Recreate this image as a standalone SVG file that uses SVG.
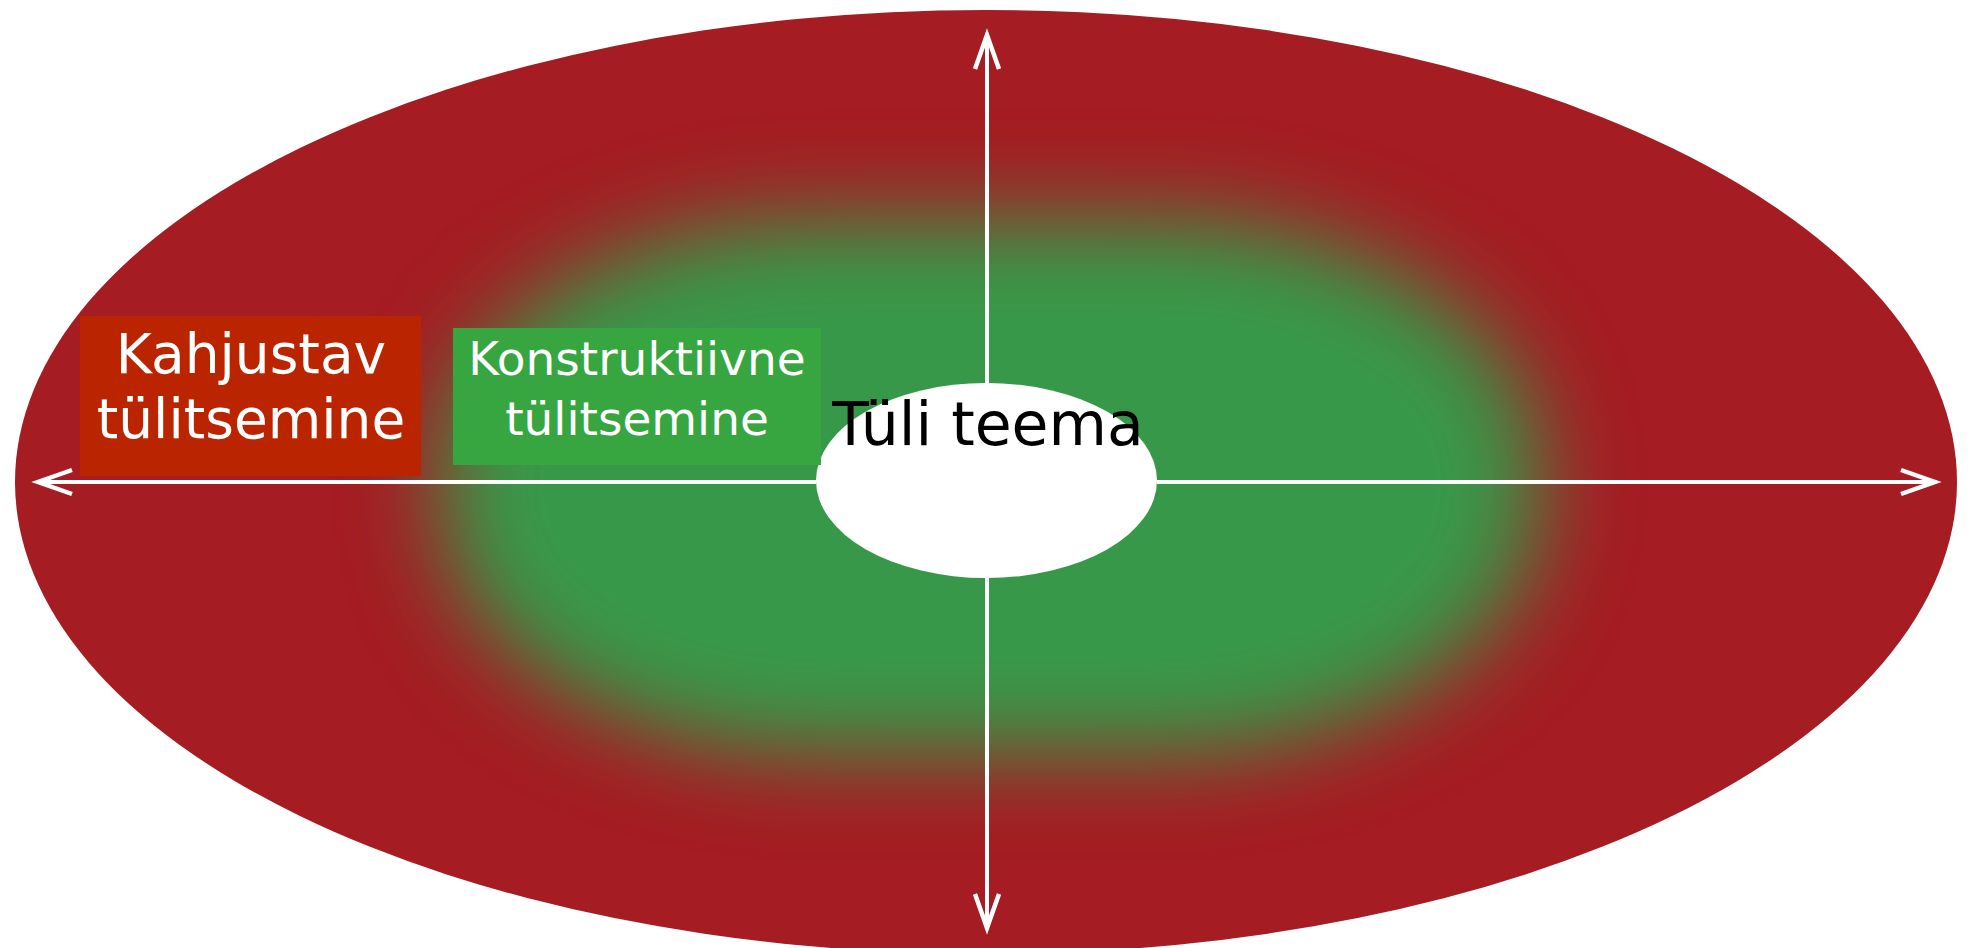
<svg xmlns="http://www.w3.org/2000/svg" width="1968" height="948" viewBox="0 0 1968 948">
<style>
.ax{stroke:#ffffff;stroke-width:4;fill:none}
.lbl{font-family:"DejaVu Sans",Verdana,sans-serif;text-anchor:middle}
</style>
<defs>
<filter id="blur" x="-30%" y="-40%" width="160%" height="180%"><feGaussianBlur stdDeviation="45"/></filter>
<clipPath id="outer"><ellipse cx="986" cy="482" rx="971" ry="472"/></clipPath>
<marker id="ah" markerUnits="userSpaceOnUse" markerWidth="50" markerHeight="40" viewBox="-40 -20 50 40" refX="0" refY="0" orient="auto-start-reverse">
<path d="M -34 -12 L 0 0 L -34 12" stroke="#ffffff" stroke-width="4.5" fill="none" stroke-linejoin="miter"/>
</marker>
</defs>
<g id="field">
<ellipse cx="986" cy="482" rx="971" ry="472" fill="#A51C22"/>
<g clip-path="url(#outer)">
<rect x="440" y="218" width="1100" height="536" rx="380" ry="250" fill="#37984A" filter="url(#blur)"/>
</g>
</g>
<g id="connectors">
<line class="ax" x1="816" y1="482" x2="38" y2="482" marker-end="url(#ah)"/>
<line class="ax" x1="1157" y1="482" x2="1935" y2="482" marker-end="url(#ah)"/>
<line class="ax" x1="987" y1="383" x2="987" y2="35" marker-end="url(#ah)"/>
<line class="ax" x1="987" y1="578" x2="987" y2="928" marker-end="url(#ah)"/>
</g>
<g id="center">
<ellipse cx="986.5" cy="480.5" rx="170.5" ry="97.5" fill="#ffffff"/>
<text class="lbl" x="988" y="445" font-size="60" fill="#000000">Tüli teema</text>
</g>
<g id="kahjustav">
<rect x="80" y="316" width="341" height="160" fill="#BA2500"/>
<text class="lbl" x="251" y="373" font-size="55" fill="#ffffff">Kahjustav</text>
<text class="lbl" x="251" y="438" font-size="55" fill="#ffffff">tülitsemine</text>
</g>
<g id="konstruktiivne">
<rect x="453" y="328" width="368" height="137" fill="#37A640"/>
<text class="lbl" x="637" y="375" font-size="47" fill="#ffffff">Konstruktiivne</text>
<text class="lbl" x="637" y="435" font-size="47" fill="#ffffff">tülitsemine</text>
</g>
</svg>
